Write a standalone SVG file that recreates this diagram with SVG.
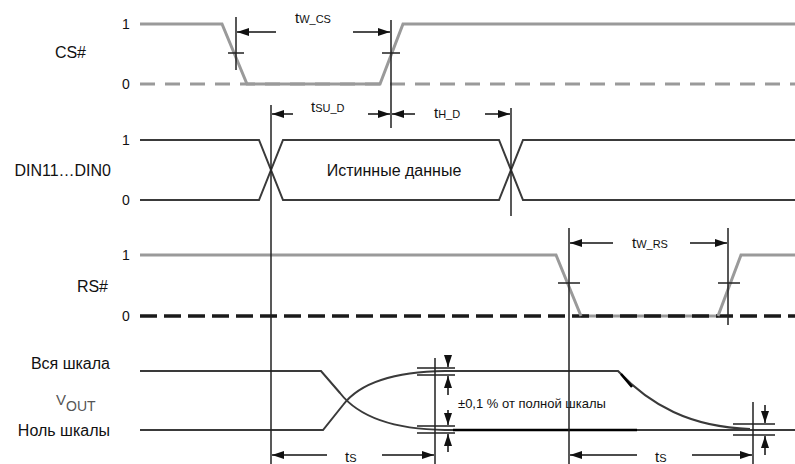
<svg xmlns="http://www.w3.org/2000/svg" width="795" height="464" viewBox="0 0 795 464">
<defs>
<marker id="ah" viewBox="0 0 12 8" refX="12" refY="4" markerWidth="12" markerHeight="8" markerUnits="userSpaceOnUse" orient="auto">
<path d="M0,0 L12,4 L0,8 Z" fill="#111"/>
</marker>
</defs>
<style>
text{font-family:"Liberation Sans",Arial,sans-serif;fill:#111}
.lbl{font-size:16px;text-anchor:end}
.lvl{font-size:14px;text-anchor:middle}
.t{font-size:15px}
.sub{font-size:11px}
.g{fill:none;stroke:#9a9a9a;stroke-width:3}
.gd{fill:none;stroke:#9a9a9a;stroke-width:3;stroke-dasharray:15 10}
.bd{fill:none;stroke:#1a1a1a;stroke-width:3.5;stroke-dasharray:17 7}
.d{fill:none;stroke:#3a3a3a;stroke-width:2}
.v{fill:none;stroke:#222;stroke-width:1.5}
.ar{fill:none;stroke:#111;stroke-width:1.5;marker-end:url(#ah)}
.blk{fill:none;stroke:#000;stroke-width:2.5}
</style>
<g id="cs">
<text class="lbl" x="86" y="58">CS#</text>
<text class="lvl" x="126" y="29">1</text>
<text class="lvl" x="126" y="89">0</text>
<path class="gd" d="M140,84 H795"/>
<path class="g" d="M140,24 H222 L247,84 H380 L403,24 H795"/>
</g>
<g id="din">
<text class="lbl" x="111" y="176">DIN11…DIN0</text>
<text class="lvl" x="126" y="145">1</text>
<text class="lvl" x="126" y="205">0</text>
<path class="d" d="M140,140 H259 L283,200 H499 L523,140 H795"/>
<path class="d" d="M140,200 H259 L283,140 H499 L523,200 H795"/>
<text x="394" y="176" text-anchor="middle" style="font-size:16px">Истинные данные</text>
</g>
<g id="rs">
<text class="lbl" x="108" y="292">RS#</text>
<text class="lvl" x="126" y="260">1</text>
<text class="lvl" x="126" y="321">0</text>
<path class="g" d="M581,316 H718"/>
<path class="bd" d="M140,316 H795"/>
<path class="g" d="M140,255 H556 L581,316 M718,316 L741,255 H795"/>
</g>
<g id="vout">
<text class="lbl" x="110" y="369">Вся шкала</text>
<text x="56" y="405" style="font-size:15px;fill:#555">V<tspan style="font-size:14px" dy="6">OUT</tspan></text>
<text class="lbl" x="110" y="436">Ноль шкалы</text>
<path class="d" d="M140,371 H321 L340,393 Q368,429 445,430 H795"/>
<path class="d" d="M140,430 H323 L343,405 Q368,372 445,371 H618 C650,405 690,427 750,429"/>
<path class="blk" d="M453,430 H637 M621,374 L632,387"/>
<text x="458" y="408" style="font-size:13px">±0,1 % от полной шкалы</text>
</g>
<g id="connectors">
<path class="v" d="M236,17 V70 M228,53 H244"/>
<path class="v" d="M391,20 V128 M382,53 H400"/>
<path class="v" d="M271,105 V464"/>
<path class="v" d="M511,108 V216"/>
<path class="v" d="M569,228 V464 M558,283 H580"/>
<path class="v" d="M728,228 V325 M718,283 H740"/>
<path class="v" d="M435,358 V464 M417,368 H455 M417,375 H455 M417,426 H455 M417,433 H455"/>
<path class="v" d="M753,402 V464 M733,424 H775 M733,435 H775"/>
<path class="ar" d="M276,32 H237"/>
<path class="ar" d="M353,32 H390"/>
<text class="t" x="295" y="23">t<tspan class="sub">W_CS</tspan></text>
<path class="ar" d="M293,114 H272"/>
<path class="ar" d="M368,114 H390"/>
<text class="t" x="311" y="112">t<tspan class="sub">SU_D</tspan></text>
<path class="ar" d="M415,114 H392"/>
<path class="ar" d="M485,114 H510"/>
<text class="t" x="434" y="118">t<tspan class="sub">H_D</tspan></text>
<path class="ar" d="M613,243 H570"/>
<path class="ar" d="M690,243 H727"/>
<text class="t" x="632" y="248">t<tspan class="sub">W_RS</tspan></text>
<path class="ar" d="M327,455 H272"/>
<path class="ar" d="M382,455 H434"/>
<text class="t" x="345" y="462">t<tspan class="sub">S</tspan></text>
<path class="ar" d="M637,455 H570"/>
<path class="ar" d="M692,455 H752"/>
<text class="t" x="655" y="462">t<tspan class="sub">S</tspan></text>
<path class="ar" d="M448,355 V367"/>
<path class="ar" d="M448,395 V376"/>
<path class="ar" d="M448,410 V425"/>
<path class="ar" d="M448,452 V434"/>
<path class="ar" d="M765,405 V423"/>
<path class="ar" d="M765,455 V436"/>
</g>
</svg>
